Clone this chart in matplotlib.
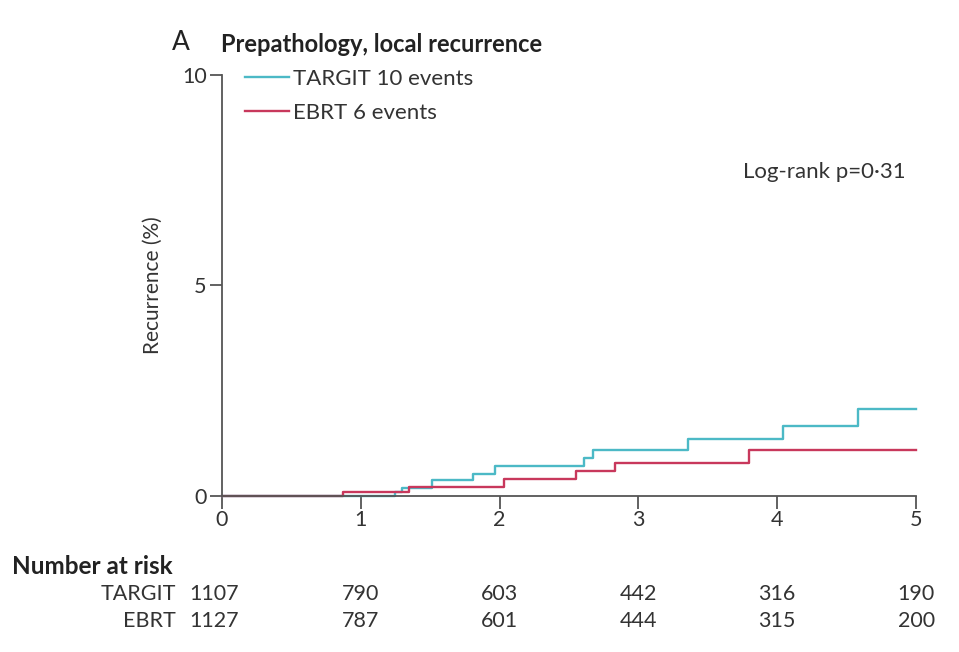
import matplotlib.pyplot as plt

# Kaplan-Meier style cumulative recurrence (%)
targit_t = [0, 1.25, 1.30, 1.51, 1.81, 1.97, 2.61, 2.67, 3.36, 4.04, 4.58, 5.0]
targit_y = [0, 0.10, 0.20, 0.38, 0.52, 0.71, 0.90, 1.09, 1.35, 1.66, 2.07, 2.07]
ebrt_t = [0, 0.87, 1.35, 2.03, 2.55, 2.83, 3.80, 5.0]
ebrt_y = [0, 0.10, 0.21, 0.40, 0.59, 0.78, 1.09, 1.09]

years = [0, 1, 2, 3, 4, 5]
targit_risk = [1107, 790, 603, 442, 316, 190]
ebrt_risk = [1127, 787, 601, 444, 315, 200]

teal = '#4cb9c6'
crimson = '#c8385c'
axis_col = '#555555'
txt_col = '#333333'

plt.rcParams['font.family'] = ['Lato', 'DejaVu Sans']
fs = 16

fig = plt.figure(figsize=(9.59, 6.52), dpi=100)
ax = fig.add_axes([0.2315, 0.2393, 0.7235, 0.6457])

ax.step(targit_t, targit_y, where='post', color=teal, lw=1.7,
        label='TARGIT 10 events', clip_on=False)
ax.step(ebrt_t, ebrt_y, where='post', color=crimson, lw=1.7,
        label='EBRT 6 events', clip_on=False)

ax.set_xlim(0, 5)
ax.set_ylim(0, 10)
ax.set_xticks(years)
ax.set_yticks([0, 5, 10])
for s in ['top', 'right']:
    ax.spines[s].set_visible(False)
for s in ['left', 'bottom']:
    ax.spines[s].set_color(axis_col)
    ax.spines[s].set_linewidth(1.3)
ax.tick_params(axis='both', colors=axis_col, labelcolor=txt_col,
               labelsize=15.5, length=9, width=1.3)
ax.tick_params(axis='x', pad=1)
ax.tick_params(axis='y', pad=2)
ax.set_ylabel('Recurrence (%)', fontsize=15, color=txt_col, labelpad=14)

ax.legend(loc='upper left', bbox_to_anchor=(0.033, 1.015), frameon=False,
          fontsize=fs, handlelength=2.0, handletextpad=0.15,
          borderpad=0, borderaxespad=0,
          labelspacing=0.65, labelcolor=txt_col)

ax.text(0.985, 0.77, 'Log-rank p=0\u00b731', transform=ax.transAxes,
        ha='right', va='center', fontsize=fs, color=txt_col)

fig.text(172 / 959, 1 - 43 / 652, 'A', fontsize=19, color='#222222',
         va='center', ha='left')
fig.text(221 / 959, 1 - 44 / 652, 'Prepathology, local recurrence',
         fontsize=17, fontweight='bold', color='#222222',
         va='center', ha='left')

# number at risk table
fig.text(12 / 959, 1 - 566 / 652, 'Number at risk', fontsize=17.5,
         fontweight='bold', color='#222222', va='center', ha='left')
for lab, vals, ypix in [('TARGIT', targit_risk, 594), ('EBRT', ebrt_risk, 621)]:
    yf = 1 - ypix / 652
    fig.text(176 / 959, yf, lab, fontsize=15.5, color=txt_col,
             va='center', ha='right')
    for yr, v in zip(years, vals):
        xf = ax.transData.transform((yr, 0))[0] / fig.bbox.width
        if yr == 0:
            fig.text(189 / 959, yf, str(v), fontsize=15.5, color=txt_col,
                     va='center', ha='left')
        elif yr == 5:
            fig.text(935 / 959, yf, str(v), fontsize=15.5, color=txt_col,
                     va='center', ha='right')
        else:
            fig.text(xf, yf, str(v), fontsize=15.5, color=txt_col,
                     va='center', ha='center')

fig.savefig('out.png', dpi=100, facecolor='white')
